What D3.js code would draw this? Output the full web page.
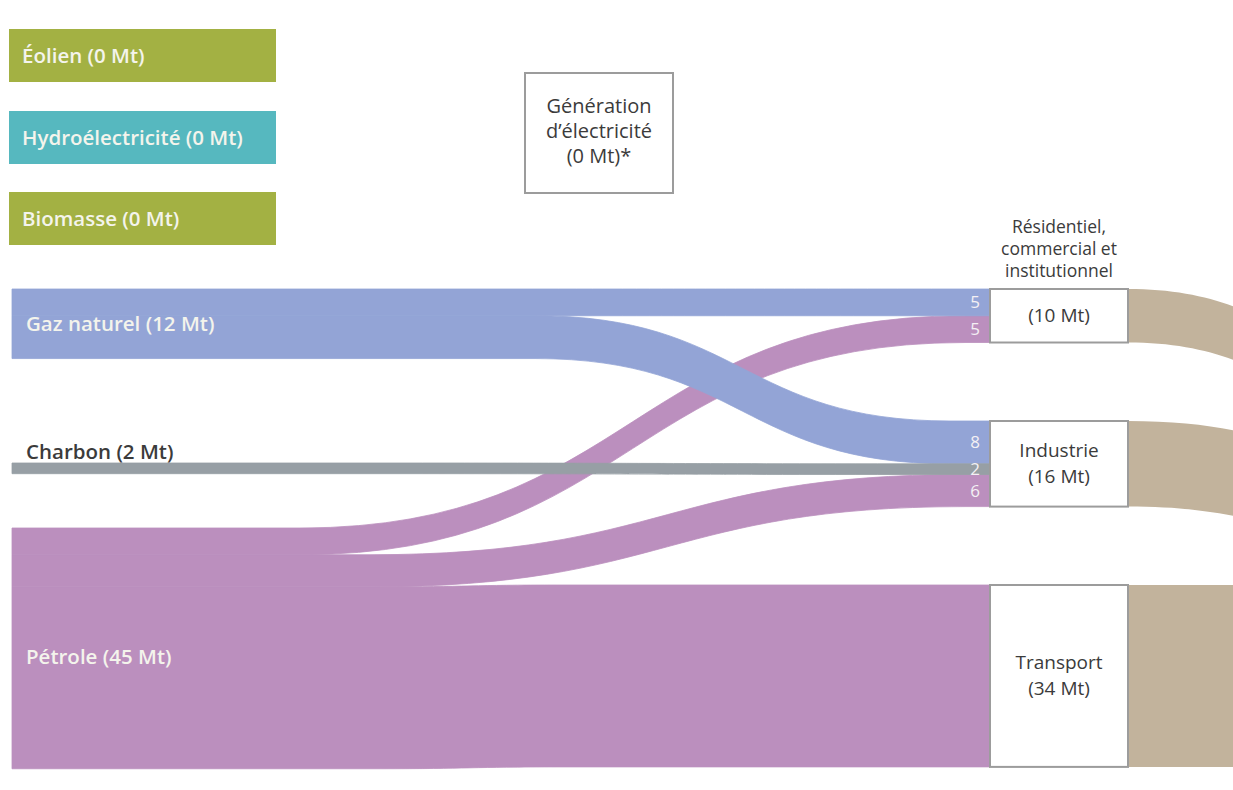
<!DOCTYPE html>
<html lang="fr">
<head>
    <meta charset="UTF-8">
    <title>Émissions par source et par secteur</title>
    <script src="https://d3js.org/d3.v7.min.js"></script>
    <style>
        body {
            margin: 0;
            background-color: #ffffff;
            font-family: "Open Sans", Arial, sans-serif;
        }
        .srcLabel {
            fill: #f4f4ec;
            font-weight: 600;
            font-size: 20.5px;
        }
        .nodeBox {
            fill: #ffffff;
            stroke: #9c9c9c;
            stroke-width: 2;
        }
        .nodeText {
            fill: #3b3b3b;
            font-size: 19px;
            text-anchor: middle;
        }
        .flowLabel {
            fill: #f4f0f4;
            font-size: 17px;
            text-anchor: end;
        }
    </style>
</head>
<body>
<div id="chart"></div>
<script>
    // sources (Mt)
    var sources = ["Éolien", "Hydroélectricité", "Biomasse", "Gaz naturel", "Charbon", "Pétrole"];
    var sourceValues = [0, 0, 0, 12, 2, 45];

    // sectors (Mt)
    var sectors = ["Résidentiel, commercial et institutionnel", "Industrie", "Transport"];
    var sectorValues = [10, 16, 34];
    var sectorTitles = [["(10 Mt)"], ["Industrie", "(16 Mt)"], ["Transport", "(34 Mt)"]];
    var sectorHeads = [["Résidentiel,", "commercial et", "institutionnel"], [], []];

    // flows source -> sector (Mt)
    var flowSource = ["Pétrole", "Pétrole", "Pétrole", "Gaz naturel", "Gaz naturel", "Charbon"];
    var flowTarget = ["Résidentiel, commercial et institutionnel", "Industrie", "Transport",
                      "Résidentiel, commercial et institutionnel", "Industrie", "Industrie"];
    var flowValue = [5, 6, 34, 5, 8, 2];

    var genLines = ["Génération", "d’électricité", "(0 Mt)*"];

    // ---- layout (positions only) ----
    var width = 1233, height = 790;
    var leftX = 12, nodeX = 990, nodeW = 138;
    var srcTop = {"Éolien": 29, "Hydroélectricité": 111, "Biomasse": 192,
                  "Gaz naturel": 289, "Charbon": 463, "Pétrole": 528};
    var labelDy = {"Gaz naturel": 0, "Pétrole": 9};
    var tgtTop = {"Résidentiel, commercial et institutionnel": 289, "Industrie": 421, "Transport": 585};
    // where each flow starts / ends its bend
    var bend = {
        "Pétrole>Résidentiel, commercial et institutionnel": [300, 965],
        "Pétrole>Industrie": [370, 965],
        "Pétrole>Transport": [380, 560],
        "Gaz naturel>Résidentiel, commercial et institutionnel": [540, 950],
        "Gaz naturel>Industrie": [535, 950],
        "Charbon>Industrie": [400, 900]
    };
    var outDrop = [150, 80, 0];
    var colors = {"Éolien": "#a3b143", "Hydroélectricité": "#56b8bf", "Biomasse": "#a3b143",
                  "Gaz naturel": "#93a4d6", "Charbon": "#979fa5", "Pétrole": "#bb8fbe"};
    var outColor = "#c2b39c";

    var k = d3.scaleLinear().domain([0, 1]).range([0, 5.35]);

    var svg = d3.select("#chart").append("svg")
        .attr("width", width)
        .attr("height", height);

    // stack flows on both ends
    var srcOff = {}, tgtOff = {}, tgtCount = {};
    var sectorOrder = {};
    sectors.forEach(function(s, i) { sectorOrder[s] = i; tgtOff[s] = 0; tgtCount[s] = 0; });
    sources.forEach(function(s) { srcOff[s] = 0; });

    var flows = flowSource.map(function(s, i) {
        tgtCount[flowTarget[i]] += 1;
        return {source: s, target: flowTarget[i], value: flowValue[i]};
    });
    // source side stacked in sector order
    flows.slice().sort(function(a, b) { return sectorOrder[a.target] - sectorOrder[b.target]; })
        .forEach(function(f) {
            f.y0 = srcTop[f.source] + k(srcOff[f.source]);
            srcOff[f.source] += f.value;
        });
    // target side stacked: gas, coal, oil
    var srcOrder = {"Gaz naturel": 0, "Charbon": 1, "Pétrole": 2};
    flows.slice().sort(function(a, b) { return srcOrder[a.source] - srcOrder[b.source]; })
        .forEach(function(f) {
            f.y1 = tgtTop[f.target] + k(tgtOff[f.target]);
            tgtOff[f.target] += f.value;
        });

    function band(x0, x1, c0, c1, y0, y1, w) {
        var p = d3.path();
        var m = (c0 + c1) / 2;
        p.moveTo(x0, y0);
        p.lineTo(c0, y0);
        p.bezierCurveTo(m, y0, m, y1, c1, y1);
        p.lineTo(x1, y1);
        p.lineTo(x1, y1 + w);
        p.lineTo(c1, y1 + w);
        p.bezierCurveTo(m, y1 + w, m, y0 + w, c0, y0 + w);
        p.lineTo(x0, y0 + w);
        p.closePath();
        return p.toString();
    }

    // zero-value sources
    sources.forEach(function(s, i) {
        if (sourceValues[i] === 0) {
            svg.append("rect")
                .attr("x", 9).attr("y", srcTop[s])
                .attr("width", 267).attr("height", 53)
                .attr("fill", colors[s]);
            svg.append("text")
                .attr("class", "srcLabel")
                .attr("x", 22).attr("y", srcTop[s] + 34)
                .text(s + " (" + sourceValues[i] + " Mt)");
        }
    });

    // flows: oil first, then gas, then coal on top
    var drawOrder = ["Pétrole", "Gaz naturel", "Charbon"];
    drawOrder.forEach(function(src) {
        flows.filter(function(f) { return f.source === src; }).forEach(function(f) {
            var b = bend[f.source + ">" + f.target];
            svg.append("path")
                .attr("d", band(leftX, nodeX, b[0], b[1], f.y0, f.y1, k(f.value)))
                .attr("fill", colors[f.source])
                .attr("stroke", colors[f.source])
                .attr("stroke-width", 0.8);
        });
    });

    // outflows to the right
    sectors.forEach(function(s, i) {
        var y = tgtTop[s];
        svg.append("path")
            .attr("d", band(nodeX + nodeW, width + 300, nodeX + nodeW, width + 300, y, y + outDrop[i], k(sectorValues[i])))
            .attr("fill", outColor);
    });

    // flow values at the sector side (only where a sector has several inputs)
    flows.forEach(function(f) {
        if (tgtCount[f.target] < 2) return;
        svg.append("text")
            .attr("class", "flowLabel")
            .attr("x", nodeX - 10)
            .attr("y", f.y1 + k(f.value) / 2 + 6)
            .text(f.value);
    });

    // source labels
    sources.forEach(function(s, i) {
        if (sourceValues[i] === 0) return;
        var h = k(srcOff[s]);
        var t = svg.append("text")
            .attr("class", "srcLabel")
            .attr("x", 26)
            .text(s + " (" + sourceValues[i] + " Mt)");
        if (s === "Charbon") {
            t.attr("y", srcTop[s] - 4).style("fill", "#3b3b3b");
        } else {
            t.attr("y", srcTop[s] + h / 2 + 7 + labelDy[s]);
        }
    });

    // sector nodes
    sectors.forEach(function(s, i) {
        var y = tgtTop[s], h = k(sectorValues[i]);
        svg.append("rect")
            .attr("class", "nodeBox")
            .attr("x", nodeX).attr("y", y)
            .attr("width", nodeW).attr("height", h);
        var lines = sectorTitles[i];
        lines.forEach(function(l, j) {
            svg.append("text")
                .attr("class", "nodeText")
                .attr("x", nodeX + nodeW / 2)
                .attr("y", y + h / 2 + 6 + (j - (lines.length - 1) / 2) * 26)
                .text(l);
        });
        sectorHeads[i].forEach(function(l, j) {
            svg.append("text")
                .attr("class", "nodeText")
                .style("font-size", "17.5px")
                .attr("x", nodeX + nodeW / 2)
                .attr("y", y - 56 + j * 22)
                .text(l);
        });
    });

    // electricity generation box (0 Mt)
    svg.append("rect")
        .attr("class", "nodeBox")
        .attr("x", 525).attr("y", 73)
        .attr("width", 148).attr("height", 120);
    genLines.forEach(function(l, j) {
        svg.append("text")
            .attr("class", "nodeText")
            .style("font-size", "20px")
            .attr("x", 599)
            .attr("y", 113 + j * 25)
            .text(l);
    });
</script>
</body>
</html>
